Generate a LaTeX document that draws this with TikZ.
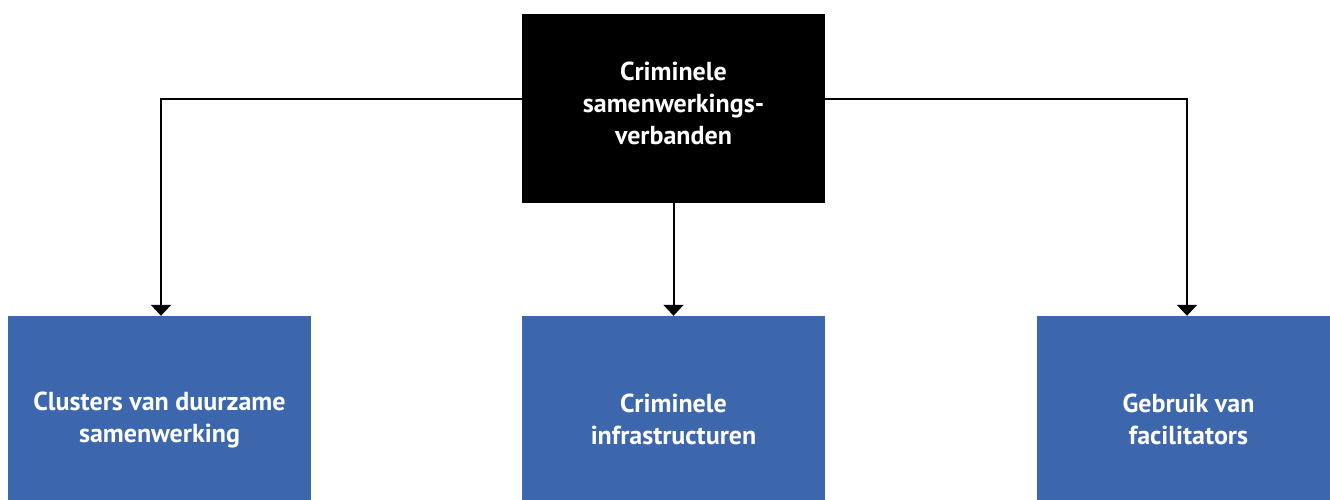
\documentclass[tikz,border=0pt]{standalone}
\usepackage{fontspec}
\setmainfont{PT Sans}
\usepackage{tikz}
\usetikzlibrary{arrows.meta}
\definecolor{rijksblauw}{RGB}{60,103,172}

\begin{document}
\begin{tikzpicture}[x=1pt,y=1pt,
    boxtext/.style={text=white, align=center, font=\fontsize{26}{32}\selectfont\bfseries, inner sep=0pt},
    topbox/.style={fill=black, minimum width=303pt, minimum height=189pt, inner sep=0pt},
    subbox/.style={boxtext, fill=rijksblauw, minimum width=303pt, minimum height=207pt},
    link/.style={line width=2pt, -{Triangle[width=20pt,length=11pt]}}
]
\useasboundingbox (0,0) rectangle (1330,499);
\node[topbox] (csv) at (673.5,390.5) {};
\node[boxtext] (csvtext) at ([yshift=5pt]csv.center) {Criminele\\samenwerkings-\\verbanden};
% onderste blokken lopen door tot onder de rand
\node[subbox] (clusters) at (159.5,79.5) {Clusters van duurzame\\samenwerking};
\node[subbox] (infra) at (673.5,79.5) {Criminele\\infrastructuren};
\node[subbox] (facil) at (1188.5,79.5) {Gebruik van\\facilitators};
\draw[link] ([yshift=9.5pt]csv.west) -| ([xshift=1.5pt]clusters.north);
\draw[link] (csv.south) -- (infra.north);
\draw[link] ([yshift=9.5pt]csv.east) -| ([xshift=-1.5pt]facil.north);
\end{tikzpicture}
\end{document}
